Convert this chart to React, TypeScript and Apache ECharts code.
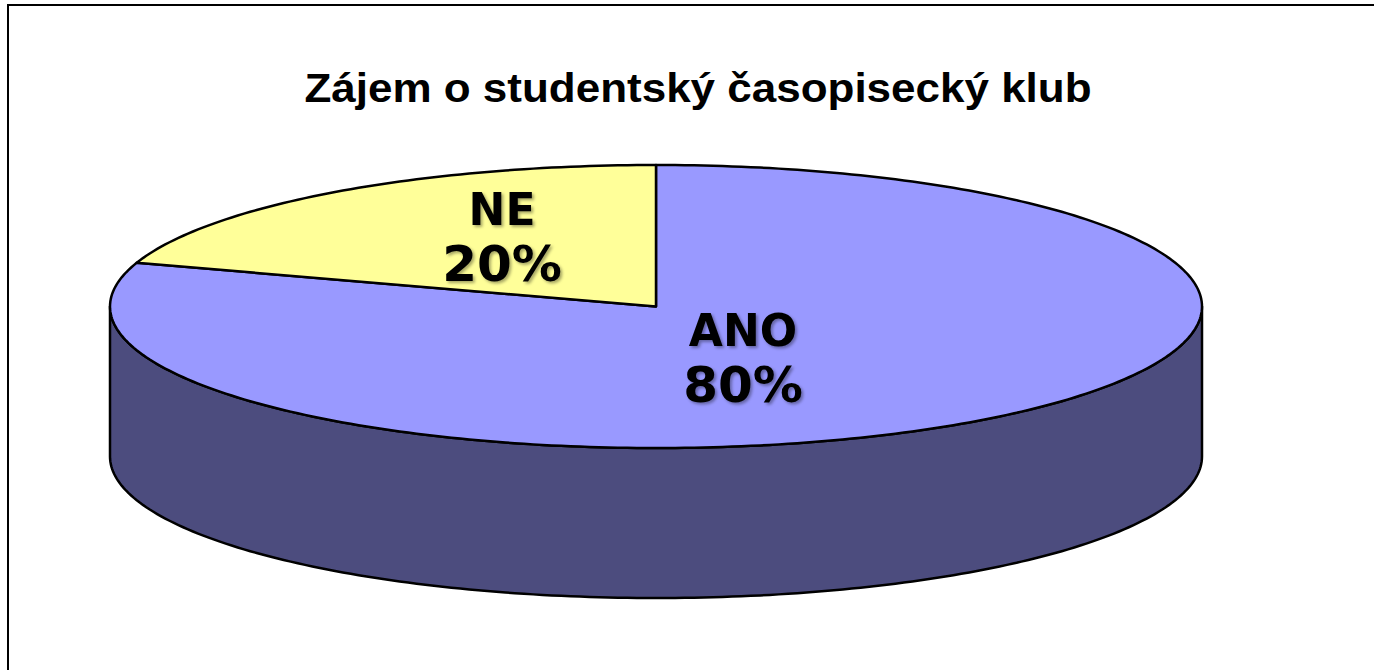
import React, { useEffect, useRef } from "react";
import * as echarts from "echarts";

// ---- data ----
const TITLE = "Zájem o studentský časopisecký klub";
const CATEGORIES = ["ANO", "NE"];
const VALUES = [80, 20];
const TOP_COLORS = ["#9999FF", "#FFFF99"];
const SIDE_COLORS = ["#4C4C7E", "#80804C"];

// ---- layout ----
const CX = 656;
const CY = 306.5;
const RX = 546;
const RY = 141.5;
const DEPTH = 150;
const LABEL_OFFSETS: [number, number][] = [
  [87, 51],
  [-154, -70],
];
const LINE_GAP = 27;

const TOTAL = VALUES.reduce((a, b) => a + b, 0);
const STARTS: number[] = [];
const ENDS: number[] = [];
{
  let acc = 0;
  VALUES.forEach((v) => {
    STARTS.push((acc / TOTAL) * 360);
    acc += v;
    ENDS.push((acc / TOTAL) * 360);
  });
}

function pt(deg: number, dy = 0): number[] {
  const r = (deg * Math.PI) / 180;
  return [CX + RX * Math.sin(r), CY - RY * Math.cos(r) + dy];
}
function arc(a0: number, a1: number, dy = 0): number[][] {
  const pts: number[][] = [];
  const n = Math.max(2, Math.ceil((a1 - a0) / 1));
  for (let k = 0; k <= n; k++) pts.push(pt(a0 + ((a1 - a0) * k) / n, dy));
  return pts;
}

export default function App() {
  const ref = useRef<HTMLDivElement>(null);
  useEffect(() => {
    if (!ref.current) return;
    const chart = echarts.init(ref.current, undefined, { renderer: "svg" });
    const labelShadow = {
      textShadowColor: "rgba(0,0,0,0.35)",
      textShadowBlur: 3,
      textShadowOffsetX: 2,
      textShadowOffsetY: 2,
    };
    chart.setOption({
      animation: false,
      backgroundColor: "#ffffff",
      graphic: [
        {
          type: "rect",
          silent: true,
          shape: { x: 8, y: 5, width: 1420, height: 720 },
          style: { fill: "none", stroke: "#000", lineWidth: 2 },
        },
        {
          type: "text",
          x: 698,
          y: 88.5,
          scaleX: 1.1,
          style: {
            text: TITLE,
            font: 'bold 40px "Liberation Sans", Arial, sans-serif',
            fill: "#000",
            align: "center",
            verticalAlign: "middle",
            textAlign: "center",
            textVerticalAlign: "middle",
          },
        },
      ],
      series: [
        {
          type: "custom",
          coordinateSystem: "none",
          data: VALUES.map((v, i) => ({ name: CATEGORIES[i], value: v })),
          renderItem: (params: any, api: any) => {
            const i = params.dataIndex;
            const a0 = STARTS[i];
            const a1 = ENDS[i];
            const children: any[] = [];
            const w0 = Math.max(a0, 90);
            const w1 = Math.min(a1, 270);
            if (w1 > w0) {
              const top = arc(w0, w1);
              const bottom = arc(w0, w1, DEPTH).reverse();
              children.push({
                type: "polygon",
                shape: { points: [...top, ...bottom] },
                style: { fill: SIDE_COLORS[i], stroke: "#000", lineWidth: 2.5, lineJoin: "round" },
              });
            }
            children.push({
              type: "polygon",
              shape: { points: [[CX, CY], ...arc(a0, a1)] },
              style: { fill: TOP_COLORS[i], stroke: "#000", lineWidth: 2.5, lineJoin: "round" },
            });
            const pct = Math.round((api.value(0) / TOTAL) * 100) + "%";
            const lx = CX + LABEL_OFFSETS[i][0];
            const ly = CY + LABEL_OFFSETS[i][1];
            children.push({
              type: "text",
              x: lx,
              y: ly - LINE_GAP,
              style: {
                text: CATEGORIES[i],
                font: 'bold 44px "DejaVu Sans", Verdana, sans-serif',
                fill: "#000",
                align: "center",
                verticalAlign: "middle",
                textAlign: "center",
                textVerticalAlign: "middle",
                ...labelShadow,
              },
            });
            children.push({
              type: "text",
              x: lx,
              y: ly + LINE_GAP,
              style: {
                text: pct,
                font: 'bold 50px "DejaVu Sans", Verdana, sans-serif',
                fill: "#000",
                align: "center",
                verticalAlign: "middle",
                textAlign: "center",
                textVerticalAlign: "middle",
                ...labelShadow,
              },
            });
            return { type: "group", children };
          },
        },
      ],
    });
    return () => chart.dispose();
  }, []);
  return (
    <div
      ref={ref}
      style={{ position: "absolute", left: 0, top: 0, width: 1374, height: 670 }}
    />
  );
}
